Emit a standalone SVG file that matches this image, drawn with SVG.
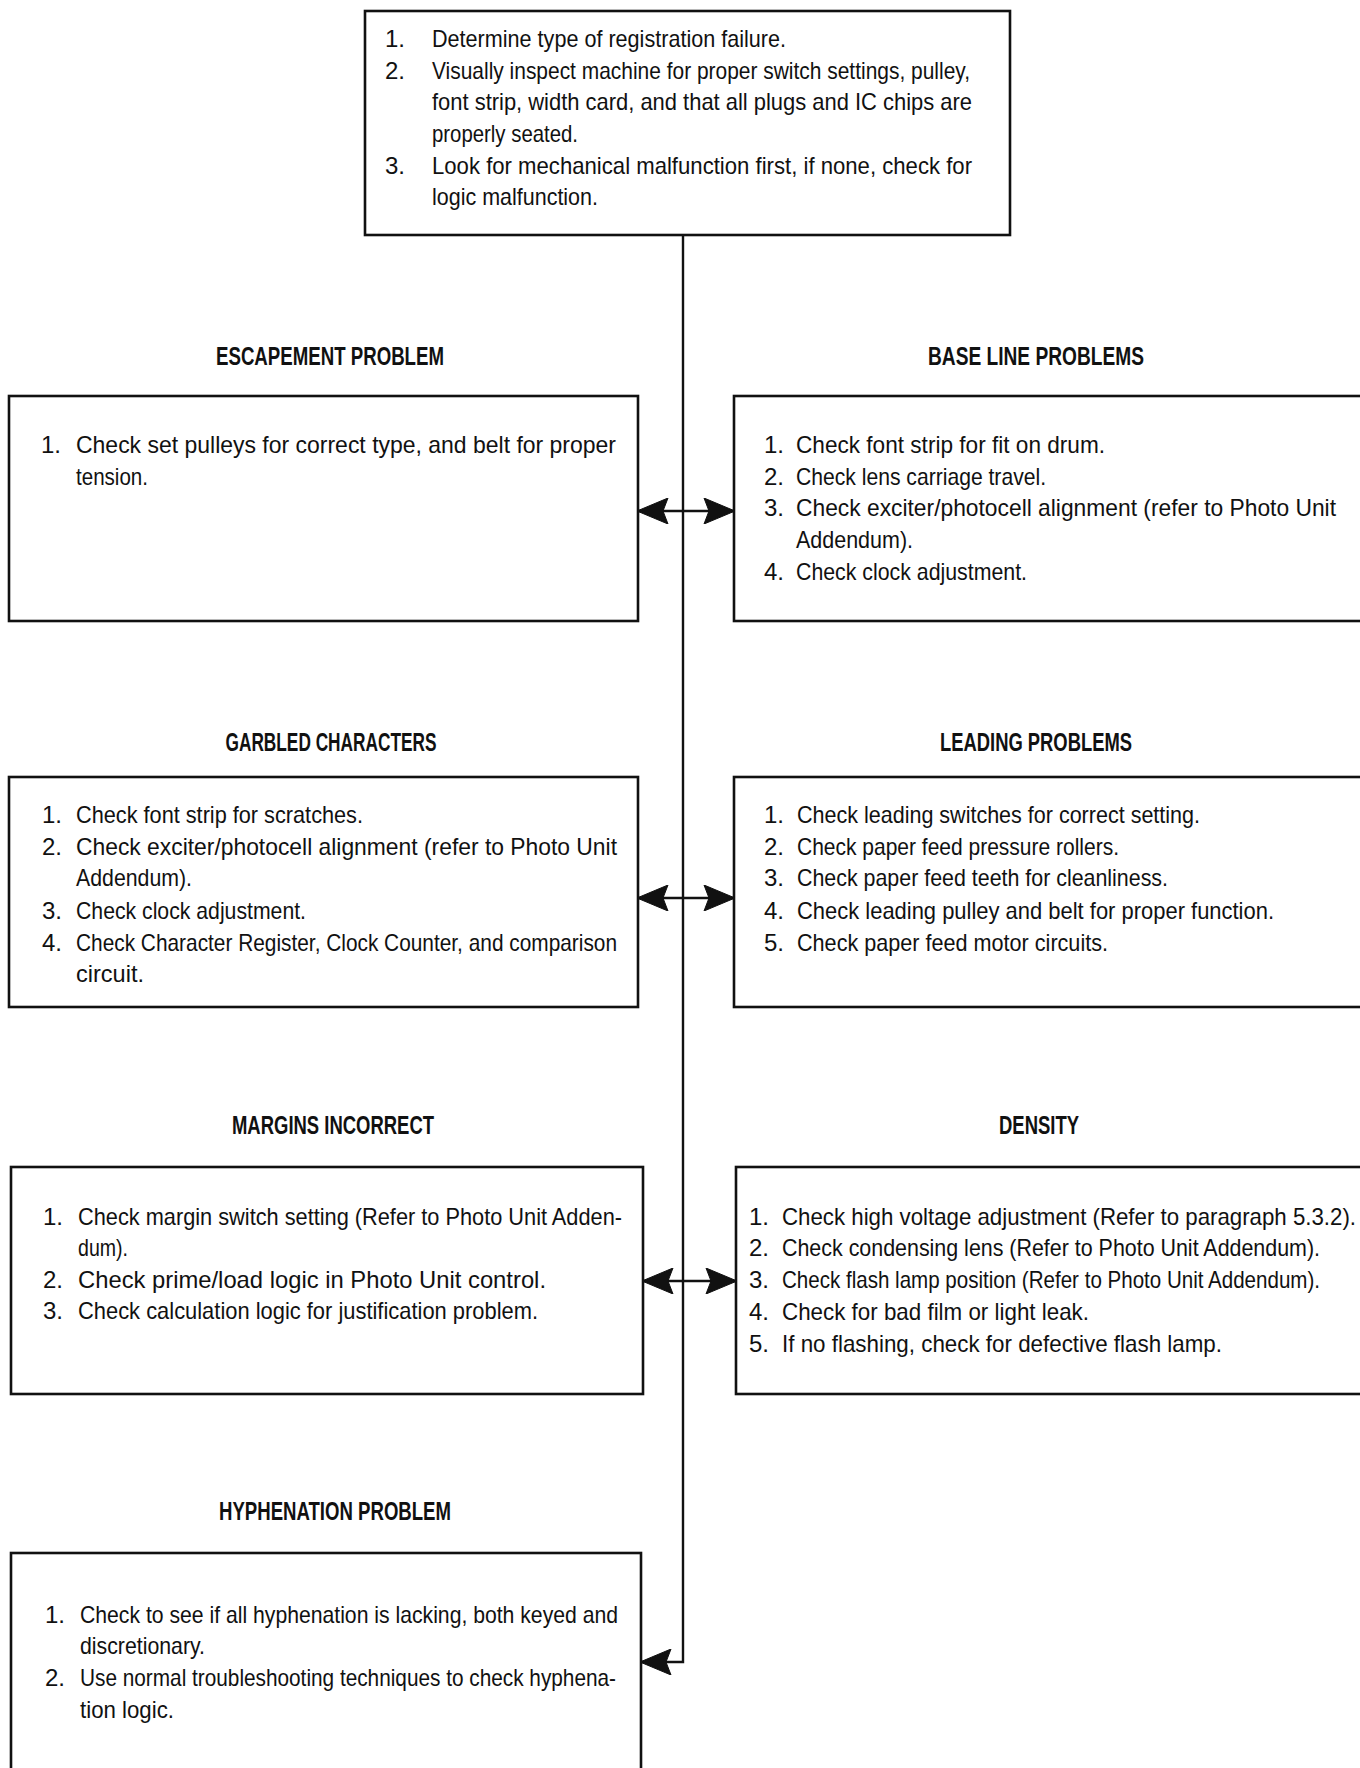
<svg xmlns="http://www.w3.org/2000/svg" width="1360" height="1768" viewBox="0 0 1360 1768">
<style>
text{font-family:"Liberation Sans Narrow","Liberation Sans",Arial,sans-serif;fill:#111}
.b{font-size:24px}
.h{font-size:25px;font-weight:bold;text-anchor:middle}
.box{fill:#fff;stroke:#111;stroke-width:2.6}
.ln{stroke:#111;stroke-width:2.4;fill:none}
</style>
<defs>
<marker id="arr" viewBox="0 0 32 26" refX="31" refY="13" markerWidth="32" markerHeight="26" markerUnits="userSpaceOnUse" orient="auto">
<path d="M32,13 L1,0 L6,13 L1,26 Z" fill="#111" stroke="#111" stroke-width="1" stroke-linejoin="miter"/>
</marker>
</defs>
<rect width="1360" height="1768" fill="#fff"/>

<g id="connectors">
<path class="ln" d="M683,235 V1662 H641" marker-end="url(#arr)"/>
<line class="ln" x1="683" y1="511" x2="638" y2="511" marker-end="url(#arr)"/>
<line class="ln" x1="683" y1="511" x2="734" y2="511" marker-end="url(#arr)"/>
<line class="ln" x1="683" y1="898" x2="638" y2="898" marker-end="url(#arr)"/>
<line class="ln" x1="683" y1="898" x2="734" y2="898" marker-end="url(#arr)"/>
<line class="ln" x1="683" y1="1281" x2="643" y2="1281" marker-end="url(#arr)"/>
<line class="ln" x1="683" y1="1281" x2="736" y2="1281" marker-end="url(#arr)"/>
</g>

<g id="start">
<rect class="box" x="365" y="11" width="645" height="224"/>
<g class="b">
<text x="385" y="47">1.</text><text x="432" y="47" textLength="354" lengthAdjust="spacingAndGlyphs">Determine type of registration failure.</text>
<text x="385" y="79">2.</text><text x="432" y="79" textLength="538" lengthAdjust="spacingAndGlyphs">Visually inspect machine for proper switch settings, pulley,</text>
<text x="432" y="110" textLength="540" lengthAdjust="spacingAndGlyphs">font strip, width card, and that all plugs and IC chips are</text>
<text x="432" y="142" textLength="146" lengthAdjust="spacingAndGlyphs">properly seated.</text>
<text x="385" y="174">3.</text><text x="432" y="174" textLength="540" lengthAdjust="spacingAndGlyphs">Look for mechanical malfunction first, if none, check for</text>
<text x="432" y="205" textLength="166" lengthAdjust="spacingAndGlyphs">logic malfunction.</text>
</g>
</g>

<g id="escapement">
<text class="h" x="330" y="365" textLength="228" lengthAdjust="spacingAndGlyphs">ESCAPEMENT PROBLEM</text>
<rect class="box" x="9" y="396" width="629" height="225"/>
<g class="b">
<text x="41" y="453">1.</text><text x="76" y="453" textLength="540" lengthAdjust="spacingAndGlyphs">Check set pulleys for correct type, and belt for proper</text>
<text x="76" y="485" textLength="72" lengthAdjust="spacingAndGlyphs">tension.</text>
</g>
</g>

<g id="baseline">
<text class="h" x="1036" y="365" textLength="216" lengthAdjust="spacingAndGlyphs">BASE LINE PROBLEMS</text>
<rect class="box" x="734" y="396" width="640" height="225"/>
<g class="b">
<text x="764" y="453">1.</text><text x="796" y="453" textLength="309" lengthAdjust="spacingAndGlyphs">Check font strip for fit on drum.</text>
<text x="764" y="485">2.</text><text x="796" y="485" textLength="250" lengthAdjust="spacingAndGlyphs">Check lens carriage travel.</text>
<text x="764" y="516">3.</text><text x="796" y="516" textLength="540" lengthAdjust="spacingAndGlyphs">Check exciter/photocell alignment (refer to Photo Unit</text>
<text x="796" y="548" textLength="117" lengthAdjust="spacingAndGlyphs">Addendum).</text>
<text x="764" y="580">4.</text><text x="796" y="580" textLength="231" lengthAdjust="spacingAndGlyphs">Check clock adjustment.</text>
</g>
</g>

<g id="garbled">
<text class="h" x="331" y="751" textLength="211" lengthAdjust="spacingAndGlyphs">GARBLED CHARACTERS</text>
<rect class="box" x="9" y="777" width="629" height="230"/>
<g class="b">
<text x="42" y="823">1.</text><text x="76" y="823" textLength="287" lengthAdjust="spacingAndGlyphs">Check font strip for scratches.</text>
<text x="42" y="855">2.</text><text x="76" y="855" textLength="541" lengthAdjust="spacingAndGlyphs">Check exciter/photocell alignment (refer to Photo Unit</text>
<text x="76" y="886" textLength="116" lengthAdjust="spacingAndGlyphs">Addendum).</text>
<text x="42" y="919">3.</text><text x="76" y="919" textLength="230" lengthAdjust="spacingAndGlyphs">Check clock adjustment.</text>
<text x="42" y="951">4.</text><text x="76" y="951" textLength="541" lengthAdjust="spacingAndGlyphs">Check Character Register, Clock Counter, and comparison</text>
<text x="76" y="982" textLength="68" lengthAdjust="spacingAndGlyphs">circuit.</text>
</g>
</g>

<g id="leading">
<text class="h" x="1036" y="751" textLength="192" lengthAdjust="spacingAndGlyphs">LEADING PROBLEMS</text>
<rect class="box" x="734" y="777" width="640" height="230"/>
<g class="b">
<text x="764" y="823">1.</text><text x="797" y="823" textLength="403" lengthAdjust="spacingAndGlyphs">Check leading switches for correct setting.</text>
<text x="764" y="855">2.</text><text x="797" y="855" textLength="322" lengthAdjust="spacingAndGlyphs">Check paper feed pressure rollers.</text>
<text x="764" y="886">3.</text><text x="797" y="886" textLength="371" lengthAdjust="spacingAndGlyphs">Check paper feed teeth for cleanliness.</text>
<text x="764" y="919">4.</text><text x="797" y="919" textLength="477" lengthAdjust="spacingAndGlyphs">Check leading pulley and belt for proper function.</text>
<text x="764" y="951">5.</text><text x="797" y="951" textLength="311" lengthAdjust="spacingAndGlyphs">Check paper feed motor circuits.</text>
</g>
</g>

<g id="margins">
<text class="h" x="333" y="1134" textLength="202" lengthAdjust="spacingAndGlyphs">MARGINS INCORRECT</text>
<rect class="box" x="11" y="1167" width="632" height="227"/>
<g class="b">
<text x="43" y="1225">1.</text><text x="78" y="1225" textLength="544" lengthAdjust="spacingAndGlyphs">Check margin switch setting (Refer to Photo Unit Adden-</text>
<text x="78" y="1256" textLength="50" lengthAdjust="spacingAndGlyphs">dum).</text>
<text x="43" y="1288">2.</text><text x="78" y="1288" textLength="468" lengthAdjust="spacingAndGlyphs">Check prime/load logic in Photo Unit control.</text>
<text x="43" y="1319">3.</text><text x="78" y="1319" textLength="460" lengthAdjust="spacingAndGlyphs">Check calculation logic for justification problem.</text>
</g>
</g>

<g id="density">
<text class="h" x="1039" y="1134" textLength="80" lengthAdjust="spacingAndGlyphs">DENSITY</text>
<rect class="box" x="736" y="1167" width="640" height="227"/>
<g class="b">
<text x="749" y="1225">1.</text><text x="782" y="1225" textLength="574" lengthAdjust="spacingAndGlyphs">Check high voltage adjustment (Refer to paragraph 5.3.2).</text>
<text x="749" y="1256">2.</text><text x="782" y="1256" textLength="538" lengthAdjust="spacingAndGlyphs">Check condensing lens (Refer to Photo Unit Addendum).</text>
<text x="749" y="1288">3.</text><text x="782" y="1288" textLength="538" lengthAdjust="spacingAndGlyphs">Check flash lamp position (Refer to Photo Unit Addendum).</text>
<text x="749" y="1320">4.</text><text x="782" y="1320" textLength="307" lengthAdjust="spacingAndGlyphs">Check for bad film or light leak.</text>
<text x="749" y="1352">5.</text><text x="782" y="1352" textLength="440" lengthAdjust="spacingAndGlyphs">If no flashing, check for defective flash lamp.</text>
</g>
</g>

<g id="hyphenation">
<text class="h" x="335" y="1520" textLength="232" lengthAdjust="spacingAndGlyphs">HYPHENATION PROBLEM</text>
<rect class="box" x="11" y="1553" width="630" height="240"/>
<g class="b">
<text x="45" y="1623">1.</text><text x="80" y="1623" textLength="538" lengthAdjust="spacingAndGlyphs">Check to see if all hyphenation is lacking, both keyed and</text>
<text x="80" y="1654" textLength="125" lengthAdjust="spacingAndGlyphs">discretionary.</text>
<text x="45" y="1686">2.</text><text x="80" y="1686" textLength="536" lengthAdjust="spacingAndGlyphs">Use normal troubleshooting techniques to check hyphena-</text>
<text x="80" y="1718" textLength="94" lengthAdjust="spacingAndGlyphs">tion logic.</text>
</g>
</g>
</svg>
